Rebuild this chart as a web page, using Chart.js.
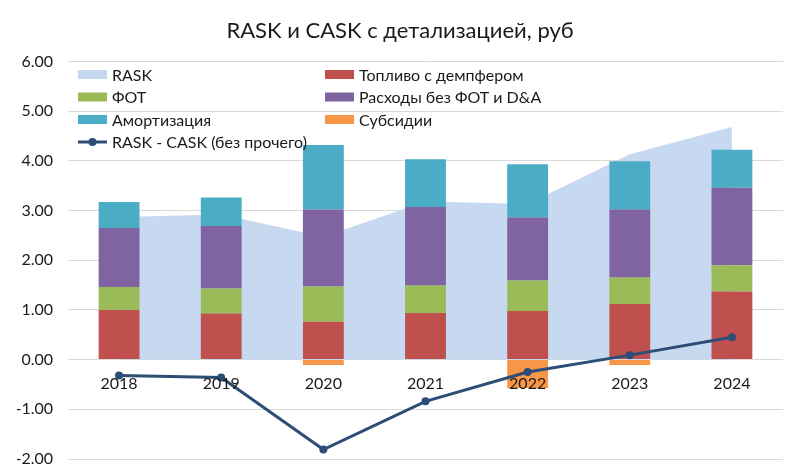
<!DOCTYPE html>
<html>
<head>
<meta charset="utf-8">
<script src="https://cdn.jsdelivr.net/npm/chart.js@4.4.1/dist/chart.umd.min.js"></script>
<style>
    html, body { margin: 0; padding: 0; background: #fff; }
    #wrap { width: 800px; height: 475px; position: relative; }
</style>
</head>
<body>
<div id="wrap"><canvas id="chart"></canvas></div>
<script>
const years = ['2018', '2019', '2020', '2021', '2022', '2023', '2024'];
const rask = [2.87, 2.92, 2.47, 3.18, 3.13, 4.13, 4.68];
const fuel = [1.00, 0.93, 0.76, 0.94, 0.98, 1.12, 1.37];
const payroll = [0.46, 0.50, 0.71, 0.55, 0.61, 0.53, 0.53];
const otherCosts = [1.19, 1.26, 1.55, 1.58, 1.27, 1.37, 1.56];
const depreciation = [0.52, 0.57, 1.30, 0.96, 1.07, 0.97, 0.76];
const subsidies = [null, null, -0.11, null, -0.57, -0.11, null];
const margin = [-0.32, -0.36, -1.81, -0.84, -0.25, 0.09, 0.45];

const FONT = 'Lato, "Open Sans", sans-serif';
const TEXT = '#1a1a1a';

// Легенда в две колонки внутри области графика, как в Excel
const gridLegend = {
    id: 'gridLegend',
    afterDatasetsDraw(chart) {
        const ctx = chart.ctx;
        const cols = [78, 325];
        const rowY = [74.5, 97, 119.5, 142];
        ctx.save();
        ctx.font = '16px ' + FONT;
        ctx.textBaseline = 'middle';
        ctx.fillStyle = TEXT;
        chart.data.datasets.forEach((ds, i) => {
            const x = cols[i % 2];
            const y = rowY[Math.floor(i / 2)];
            if (ds.type === 'line' && !ds.fill) {
                ctx.strokeStyle = ds.borderColor;
                ctx.lineWidth = 3;
                ctx.beginPath();
                ctx.moveTo(x, y);
                ctx.lineTo(x + 29, y);
                ctx.stroke();
                ctx.fillStyle = ds.borderColor;
                ctx.beginPath();
                ctx.arc(x + 14.5, y, 4, 0, Math.PI * 2);
                ctx.fill();
            } else {
                ctx.fillStyle = ds.backgroundColor;
                ctx.fillRect(x, y - 4.5, 29, 9);
            }
            ctx.fillStyle = TEXT;
            ctx.fillText(ds.label, x + 34, y + 1);
        });
        ctx.restore();
    }
};

new Chart(document.getElementById('chart'), {
    data: {
        labels: years,
        datasets: [
            {
                type: 'line',
                label: 'RASK',
                data: rask,
                stack: 'rask',
                fill: 'origin',
                backgroundColor: '#C6D9F0',
                borderWidth: 0,
                pointRadius: 0,
                tension: 0,
                order: 2
            },
            {
                type: 'bar',
                label: 'Топливо с демпфером',
                data: fuel,
                backgroundColor: '#C0504D',
                order: 1
            },
            {
                type: 'bar',
                label: 'ФОТ',
                data: payroll,
                backgroundColor: '#9BBB59',
                order: 1
            },
            {
                type: 'bar',
                label: 'Расходы без ФОТ и D&A',
                data: otherCosts,
                backgroundColor: '#8064A2',
                order: 1
            },
            {
                type: 'bar',
                label: 'Амортизация',
                data: depreciation,
                backgroundColor: '#4BACC6',
                order: 1
            },
            {
                type: 'bar',
                label: 'Субсидии',
                data: subsidies,
                backgroundColor: '#F79646',
                order: 1
            },
            {
                type: 'line',
                label: 'RASK - CASK (без прочего)',
                data: margin,
                stack: 'margin',
                fill: false,
                borderColor: '#2C4D75',
                backgroundColor: '#2C4D75',
                borderWidth: 3,
                pointRadius: 4,
                pointBackgroundColor: '#2C4D75',
                pointBorderWidth: 0,
                tension: 0,
                order: 0
            }
        ]
    },
    options: {
        responsive: true,
        maintainAspectRatio: false,
        animation: false,
        layout: {
            padding: { left: 17, right: 17, top: 0, bottom: 16 }
        },
        datasets: {
            bar: {
                categoryPercentage: 1,
                barPercentage: 0.4
            }
        },
        plugins: {
            legend: { display: false },
            tooltip: { enabled: false },
            title: {
                display: true,
                text: 'RASK и CASK с детализацией, руб',
                color: TEXT,
                font: { family: FONT, size: 22, weight: 'normal' },
                padding: { top: 18, bottom: 17 }
            }
        },
        scales: {
            x: {
                stacked: true,
                position: { y: 0 },
                grid: { display: false, drawTicks: false },
                border: { display: false },
                ticks: {
                    z: 1,
                    color: TEXT,
                    padding: 15,
                    font: { family: FONT, size: 16 }
                },
                afterFit(scale) {
                    scale.height = 0;
                    scale.paddingLeft = 0;
                    scale.paddingRight = 0;
                }
            },
            y: {
                stacked: true,
                min: -2,
                max: 6,
                grid: { color: '#D9D9D9', lineWidth: 1, drawTicks: false },
                border: { display: false },
                ticks: {
                    stepSize: 1,
                    color: TEXT,
                    padding: 15,
                    font: { family: FONT, size: 16 },
                    callback: v => v.toFixed(2)
                },
                afterFit(scale) {
                    scale.width = 51;
                    scale.paddingTop = 0;
                    scale.paddingBottom = 0;
                }
            }
        }
    },
    plugins: [gridLegend]
});
</script>
</body>
</html>
